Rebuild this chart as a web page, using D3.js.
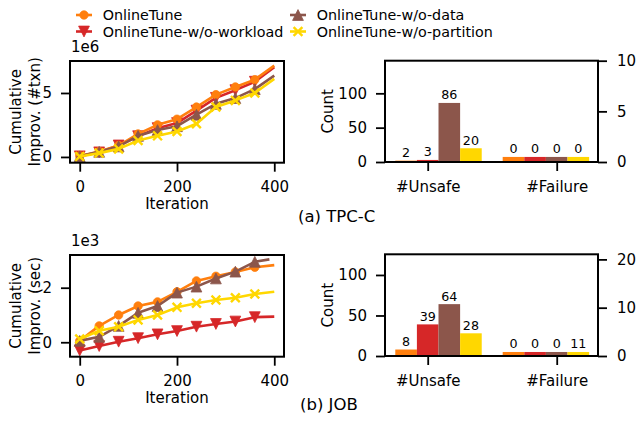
<!DOCTYPE html>
<html><head><meta charset="utf-8">
<script src="https://cdn.jsdelivr.net/npm/d3@7"></script>
<style>
body{margin:0;background:#fff}
svg{display:block;font-family:"DejaVu Sans",sans-serif}
</style></head><body><svg id="c" width="637" height="421"></svg>
<script>
// ---------- data ----------
const seriesNames = ['OnlineTune','OnlineTune-w/o-workload','OnlineTune-w/o-data','OnlineTune-w/o-partition'];
const seriesColors = ['#ff7f0e','#d62728','#8c564b','#ffd700'];
const seriesMarkers = ['circle','triDown','triUp','x'];
const drawOrder = [1,0,2,3];

// (a) TPC-C cumulative improvement, units of 1e6 txn
const tpccIter = [0,40,80,120,160,200,240,280,320,360,400];
const tpccOnlineTune  = [0.08,0.42,0.89,1.80,2.51,2.95,3.90,4.87,5.47,6.04,7.14];
const tpccNoWorkload  = [0.05,0.36,0.90,1.62,2.25,2.65,3.62,4.62,5.22,5.88,7.02];
const tpccNoData      = [0.05,0.40,0.82,1.65,2.10,2.40,3.30,4.15,4.60,5.30,6.36];
const tpccNoPartition = [0.03,0.30,0.63,1.28,1.65,1.99,2.59,3.90,4.42,5.00,6.10];

// (b) JOB cumulative improvement, units of 1e3 sec
const jobIter = [0,40,80,120,160,200,240,280,320,360,400];
const jobIterNoData = [0,40,80,120,160,200,240,280,320,360,390];
const jobOnlineTune  = [0.05,0.60,1.00,1.33,1.48,1.85,2.25,2.42,2.58,2.75,2.83];
const jobNoWorkload  = [-0.30,-0.14,0.02,0.15,0.29,0.41,0.57,0.67,0.76,0.92,0.94];
const jobNoData      = [0.05,0.20,0.60,1.08,1.33,1.82,2.04,2.34,2.59,2.95,3.04];
const jobNoPartition = [0.12,0.42,0.57,0.82,1.00,1.28,1.43,1.55,1.63,1.77,1.85];

const iterTicks = [0,200,400];
const tpccYTicks = [0,5];
const jobYTicks = [0,2];

// bar charts
const barCategories = ['#Unsafe','#Failure'];
const tpccUnsafe = [2,3,86,20];
const tpccFailure = [0,0,0,0];
const tpccFailureDrawn = [0.5,0.5,0.5,0.5];   // drawn height on right axis
const jobUnsafe = [8,39,64,28];
const jobFailure = [0,0,0,11];
const jobFailureDrawn = [0.83,0.83,0.83,0.83];
const countTicks = [0,50,100];
const tpccRightTicks = [0,5,10];
const jobRightTicks = [0,10,20];

// ---------- drawing ----------
const svg = d3.select('#c');
const FONT = 15;

function marker(g, type, x, y, color){
  if(type==='circle'){
    g.append('circle').attr('cx',x).attr('cy',y).attr('r',4.2).attr('fill',color).attr('stroke',color).attr('stroke-width',0.8);
  } else if(type==='triUp' || type==='triDown'){
    const s=5.4, d = type==='triUp'?1:-1;
    g.append('path').attr('d',`M${x},${y-d*s} L${x-s},${y+d*s} L${x+s},${y+d*s} Z`)
      .attr('fill',color).attr('stroke',color).attr('stroke-width',0.8).attr('stroke-linejoin','miter');
  } else {
    const r=4.4;
    g.append('path').attr('d',`M${x-r},${y-r}L${x+r},${y+r}M${x-r},${y+r}L${x+r},${y-r}`)
      .attr('stroke',color).attr('stroke-width',2.4).attr('fill','none');
  }
}

function styleAxis(sel){
  sel.select('.domain').remove();
  sel.selectAll('.tick line').attr('stroke','#000').attr('stroke-width',1.8);
  sel.selectAll('.tick text').attr('font-size',FONT).attr('fill','#000').attr('font-family','"DejaVu Sans",sans-serif');
}

let clipId=0;
function linePanel(box, yDomain, yTicks, series, expo, ylab){
  const x = d3.scaleLinear().domain([-20,420]).range([box.x0,box.x1]);
  const y = d3.scaleLinear().domain(yDomain).range([box.y1,box.y0]);
  const id='clip'+(clipId++);
  svg.append('clipPath').attr('id',id).append('rect')
    .attr('x',box.x0).attr('y',box.y0).attr('width',box.x1-box.x0).attr('height',box.y1-box.y0);
  const g = svg.append('g').attr('clip-path',`url(#${id})`);
  const line = d3.line().x(d=>x(d[0])).y(d=>y(d[1]));
  drawOrder.forEach(i=>{
    const s = series[i];
    const pts = s.iter.map((it,k)=>[it,s.vals[k]]);
    g.append('path').attr('d',line(pts)).attr('fill','none').attr('stroke',seriesColors[i])
      .attr('stroke-width',2.6).attr('stroke-linejoin','round').attr('stroke-linecap','butt');
    pts.forEach(p=>{ if(p[0]<=360) marker(g, seriesMarkers[i], x(p[0]), y(p[1]), seriesColors[i]); });
  });
  const ax = svg.append('g').attr('transform',`translate(0,${box.y1})`)
    .call(d3.axisBottom(x).tickValues(iterTicks).tickSize(9).tickPadding(10).tickFormat(d3.format('d')));
  styleAxis(ax);
  const ay = svg.append('g').attr('transform',`translate(${box.x0},0)`)
    .call(d3.axisLeft(y).tickValues(yTicks).tickSize(9).tickPadding(9).tickFormat(d3.format('d')));
  styleAxis(ay);
  svg.append('rect').attr('x',box.x0).attr('y',box.y0).attr('width',box.x1-box.x0).attr('height',box.y1-box.y0)
    .attr('fill','none').attr('stroke','#000').attr('stroke-width',2);
  svg.append('text').attr('x',box.x0+1).attr('y',box.y0-9).attr('font-size',FONT).text(expo);
  svg.append('text').attr('x',(box.x0+box.x1)/2).attr('y',box.y1+46.5).attr('text-anchor','middle').attr('font-size',FONT).text('Iteration');
  const cy=(box.y0+box.y1)/2;
  ylab.forEach((t,k)=>{
    const bx = 20.5 + k*19;
    svg.append('text').attr('transform',`translate(${bx},${cy}) rotate(-90)`).attr('text-anchor','middle')
      .attr('font-size',FONT).text(t);
  });
}

function barPanel(box, leftMax, rightMax, rightTicks, unsafe, failureLabels, failureDrawn){
  const x = d3.scaleLinear().domain([-0.331,1.32]).range([box.x0,box.x1]);
  const yL = d3.scaleLinear().domain([0,leftMax]).range([box.y1,box.y0]);
  const yR = d3.scaleLinear().domain([0,rightMax]).range([box.y1,box.y0]);
  const w = 0.1675;
  const g = svg.append('g');
  unsafe.forEach((v,i)=>{
    const cx = 0 + (i-1)*w;
    g.append('rect').attr('x',x(cx-w/2)).attr('width',x(cx+w/2)-x(cx-w/2))
      .attr('y',yL(v)).attr('height',yL(0)-yL(v)).attr('fill',seriesColors[i]);
    g.append('text').attr('x',x(cx)).attr('y',yL(v)-3.5).attr('text-anchor','middle').attr('font-size',12.7).text(v);
  });
  failureDrawn.forEach((v,i)=>{
    const cx = 1 + (i-2)*w;
    g.append('rect').attr('x',x(cx-w/2)).attr('width',x(cx+w/2)-x(cx-w/2))
      .attr('y',yR(v)).attr('height',yR(0)-yR(v)).attr('fill',seriesColors[i]);
    g.append('text').attr('x',x(cx)).attr('y',yR(v)-3.5).attr('text-anchor','middle').attr('font-size',12.7).text(failureLabels[i]);
  });
  const ax = svg.append('g').attr('transform',`translate(0,${box.y1})`)
    .call(d3.axisBottom(x).tickValues([0,1]).tickSize(9).tickPadding(10).tickFormat(i=>barCategories[i]));
  styleAxis(ax);
  const ay = svg.append('g').attr('transform',`translate(${box.x0},0)`)
    .call(d3.axisLeft(yL).tickValues(countTicks).tickSize(9).tickPadding(9).tickFormat(d3.format('d')));
  styleAxis(ay);
  const ar = svg.append('g').attr('transform',`translate(${box.x1},0)`)
    .call(d3.axisRight(yR).tickValues(rightTicks).tickSize(9).tickPadding(10).tickFormat(d3.format('d')));
  styleAxis(ar);
  svg.append('rect').attr('x',box.x0).attr('y',box.y0).attr('width',box.x1-box.x0).attr('height',box.y1-box.y0)
    .attr('fill','none').attr('stroke','#000').attr('stroke-width',2);
  const cy=(box.y0+box.y1)/2;
  svg.append('text').attr('transform',`translate(333,${cy}) rotate(-90)`).attr('text-anchor','middle')
    .attr('font-size',FONT).text('Count');
}

linePanel({x0:70,x1:284,y0:61,y1:162.7},[-0.45,7.5],tpccYTicks,[
  {iter:tpccIter,vals:tpccOnlineTune},{iter:tpccIter,vals:tpccNoWorkload},
  {iter:tpccIter,vals:tpccNoData},{iter:tpccIter,vals:tpccNoPartition}],'1e6',['Cumulative','Improv. (#txn)']);
linePanel({x0:70,x1:284,y0:255,y1:356.7},[-0.53,3.2],jobYTicks,[
  {iter:jobIter,vals:jobOnlineTune},{iter:jobIter,vals:jobNoWorkload},
  {iter:jobIterNoData,vals:jobNoData},{iter:jobIter,vals:jobNoPartition}],'1e3',['Cumulative','Improv. (sec)']);

barPanel({x0:385,x1:598,y0:60.7,y1:162},147.5,10,tpccRightTicks,tpccUnsafe,tpccFailure,tpccFailureDrawn);
barPanel({x0:385,x1:598,y0:254.3,y1:356},125.5,21.05,jobRightTicks,jobUnsafe,jobFailure,jobFailureDrawn);

// captions
svg.append('text').attr('x',298).attr('y',222).attr('font-size',16.5).text('(a) TPC-C');
svg.append('text').attr('x',300).attr('y',410).attr('font-size',16.5).text('(b) JOB');

// legend
const legPos = [[76,20],[76,36.5],[290,20],[290,36.5]];
seriesNames.forEach((n,i)=>{
  const [lx,ly]=legPos[i];
  const g=svg.append('g');
  g.append('line').attr('x1',lx).attr('x2',lx+16).attr('y1',ly-5).attr('y2',ly-5)
    .attr('stroke',seriesColors[i]).attr('stroke-width',2.6);
  marker(g,seriesMarkers[i],lx+8,ly-5,seriesColors[i]);
  g.append('text').attr('x',lx+26.7).attr('y',ly).attr('font-size',14.3).text(n);
});
</script></body></html>
